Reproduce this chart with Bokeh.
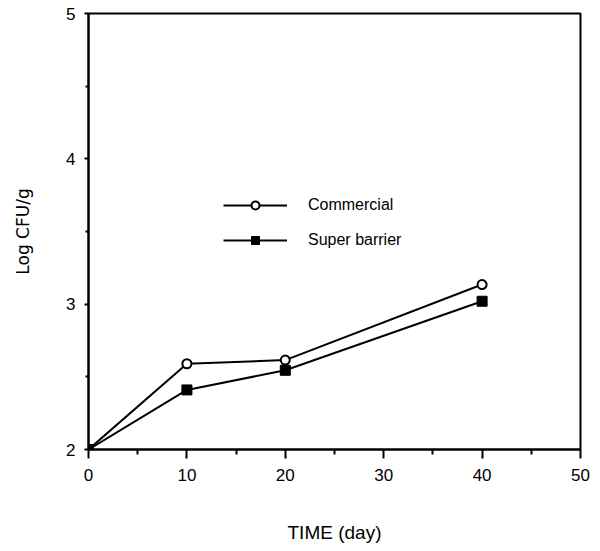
from bokeh.plotting import figure
from bokeh.models import Range1d, FixedTicker, Legend, LegendItem
from bokeh.embed import file_html
from bokeh.resources import INLINE

days = [0, 10, 20, 40]
commercial = [2.0, 2.59, 2.615, 3.135]
super_barrier = [2.0, 2.41, 2.545, 3.02]
x_ticks = [0, 10, 20, 30, 40, 50]
y_ticks = [2, 3, 4, 5]

FONT = "Liberation Sans"

p = figure(width=592, height=545, output_backend="svg", toolbar_location=None,
           x_range=Range1d(0, 50), y_range=Range1d(2, 5),
           min_border_left=88, min_border_right=12, min_border_top=13, min_border_bottom=96)
p.grid.visible = False
p.outline_line_color = "black"
p.outline_line_width = 2
p.background_fill_color = "white"
p.border_fill_color = "white"

l1 = p.line(days, commercial, line_color="black", line_width=2)
s1 = p.scatter(days, commercial, marker="circle", size=9, fill_color="white",
               line_color="black", line_width=2)
l2 = p.line(days, super_barrier, line_color="black", line_width=2)
s2 = p.scatter(days, super_barrier, marker="square", size=10, fill_color="black",
               line_color="black", line_width=1)

p.xaxis.ticker = FixedTicker(ticks=x_ticks, minor_ticks=[5, 15, 25, 35, 45])
p.yaxis.ticker = FixedTicker(ticks=y_ticks, minor_ticks=[2.5, 3.5, 4.5])

for ax in (p.xaxis[0], p.yaxis[0]):
    ax.axis_line_width = 2
    ax.axis_line_color = "black"
    ax.major_tick_line_width = 2
    ax.minor_tick_line_width = 2
    ax.major_tick_in = 0
    ax.minor_tick_in = 0
    ax.major_label_text_font = FONT
    ax.major_label_text_font_size = "17px"
    ax.major_label_text_color = "black"
    ax.axis_label_text_font_style = "normal"
    ax.axis_label_text_color = "black"

p.xaxis.major_tick_out = 9
p.xaxis.minor_tick_out = 5
p.yaxis.major_tick_out = 4
p.yaxis.minor_tick_out = 3
p.xaxis.major_label_standoff = 10
p.yaxis.major_label_standoff = 9

p.xaxis.axis_label = "TIME (day)"
p.xaxis.axis_label_text_font = FONT
p.xaxis.axis_label_text_font_size = "19px"
p.xaxis.axis_label_standoff = 38

p.yaxis.axis_label = "Log CFU/g"
p.yaxis.axis_label_text_font = "DejaVu Sans"
p.yaxis.axis_label_text_font_size = "17px"
p.yaxis.axis_label_standoff = 30

legend = Legend(items=[LegendItem(label="Commercial", renderers=[l1, s1]),
                       LegendItem(label="Super barrier", renderers=[l2, s2])],
                location=(135, 199))
legend.glyph_width = 64
legend.glyph_height = 20
legend.label_height = 20
legend.spacing = 15
legend.label_standoff = 21
legend.padding = 0
legend.margin = 0
legend.border_line_color = None
legend.background_fill_alpha = 0
legend.label_text_font = FONT
legend.label_text_font_size = "16px"
legend.label_text_color = "black"
p.add_layout(legend, "center")

open("out.html", "w").write(file_html(p, INLINE))
